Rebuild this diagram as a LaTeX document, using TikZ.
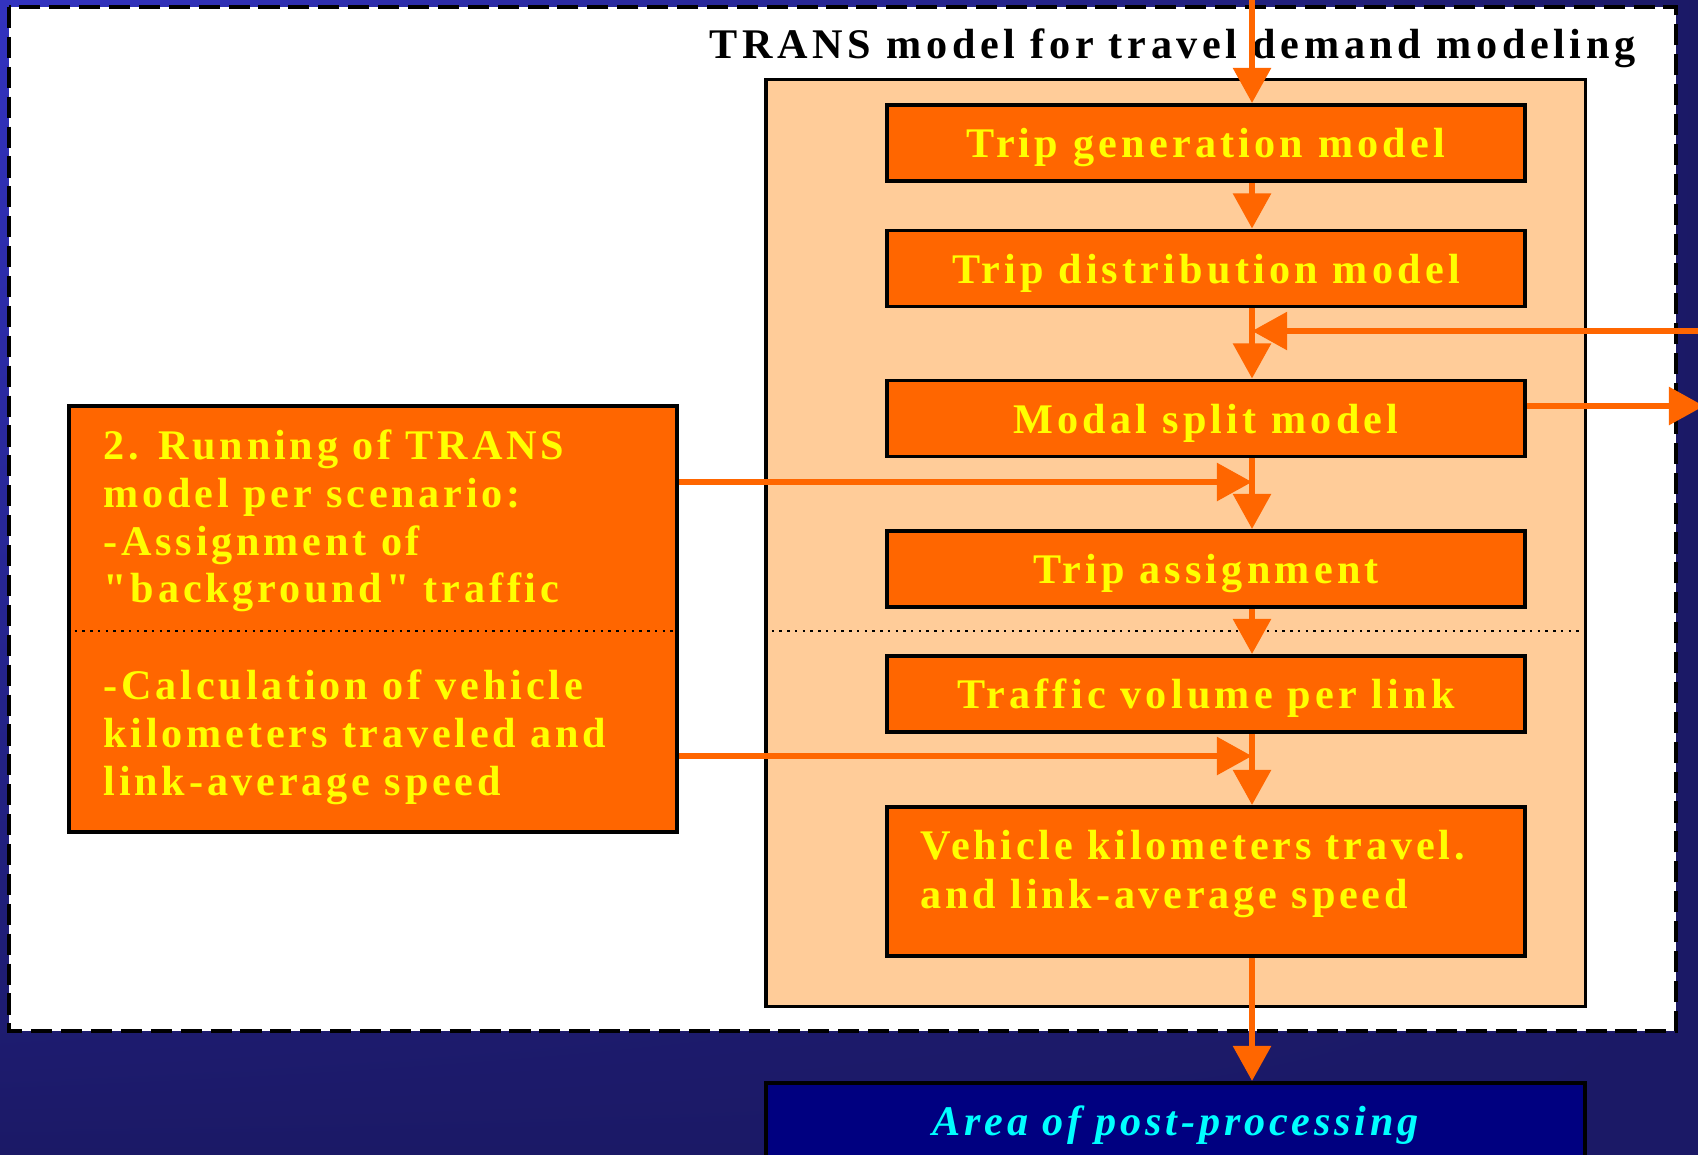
\documentclass[tikz,border=0pt]{standalone}
\usepackage{fontspec}
\setmainfont{Liberation Serif}
\newfontfamily\boxfont[LetterSpace=10]{Liberation Serif}
\newfontfamily\runfont[LetterSpace=9]{Liberation Serif}
\newfontfamily\titlefont[LetterSpace=11]{Liberation Serif}
\usetikzlibrary{arrows.meta, shadings}

\definecolor{bgnavy}{HTML}{1B1966}
\definecolor{bgblue}{HTML}{3333C0}
\definecolor{boxorange}{HTML}{FF6600}
\definecolor{boxyellow}{HTML}{FFFF00}
\definecolor{peach}{HTML}{FFCC99}
\definecolor{areablue}{HTML}{000080}
\definecolor{areacyan}{HTML}{00FFFF}

\def\xscale{0.01}
\def\yscale{-0.01}

\begin{document}
\begin{tikzpicture}[x=\xscale cm, y=\yscale cm,
	stepbox/.style={draw=black, line width=1.1pt, fill=boxorange, text=boxyellow, inner sep=0pt, text depth=0pt,
		font=\boxfont\bfseries\fontsize{12}{14}\selectfont, minimum width=6.38cm, minimum height=0.76cm},
	runtext/.style={anchor=north west, align=left, inner sep=0pt, text=boxyellow,
		font=\runfont\bfseries\fontsize{12}{13.6}\selectfont},
	flow/.style={draw=boxorange, line width=1.8pt, -{Triangle[length=10pt, width=10.5pt]}},
	divider/.style={black, line width=0.7pt, dash pattern=on 0.7pt off 1.5pt}]
			\clip (0,0) rectangle (1698,1154);
			\shade[upper left=bgblue, upper right=bgnavy, lower left=bgnavy, lower right=bgnavy] (0,0) rectangle (1698,1154);
			\draw[fill=white, line width=1.2pt, dash pattern=on 6pt off 2.5pt] (9,7) rectangle (1676,1031);
			
			\node[draw=black, line width=1pt, fill=peach, minimum width=8.19cm, minimum height=9.26cm] (trans) at (1175.5,543) {};
			\node[anchor=base east, font=\titlefont\bfseries\fontsize{12}{14}\selectfont] (title) at (1648,58) {TRANS model for travel demand modeling};
			
			\node[stepbox] (gen) at (1206,143) {Trip generation model};
			\node[stepbox] (dist) at (1206,268.5) {Trip distribution model};
			\node[stepbox] (split) at (1206,418.5) {Modal split model};
			\node[stepbox] (assign) at (1206,569) {Trip assignment};
			\node[stepbox] (vol) at (1206,694) {Traffic volume per link};
			\node[stepbox, minimum height=1.49cm] (veh) at (1206,881.5) {};
			\node[runtext, font=\runfont\bfseries\fontsize{12}{14.2}\selectfont] (vehtext) at (920,829) {Vehicle kilometers travel.\\and link-average speed};
			
			\node[stepbox, minimum width=6.08cm, minimum height=4.26cm] (run) at (373,619) {};
			\node[runtext] (runA) at (103,429) {2. Running of TRANS\\model per scenario:\\-Assignment of\\"background" traffic};
			\node[runtext] (runB) at (103,669) {-Calculation of vehicle\\kilometers traveled and\\link-average speed};
			
			\node[draw=black, line width=1.2pt, fill=areablue, text=areacyan, anchor=north, inner sep=0pt,
				minimum width=8.19cm, minimum height=0.84cm, font=\runfont\bfseries\itshape\fontsize{12}{14}\selectfont] (area) at (1175.5,1081) {Area of post-processing};
			
			\coordinate (cut) at (0,631);
			\draw[divider] (run.west |- cut) -- (run.east |- cut);
			\draw[divider] (trans.west |- cut) -- (trans.east |- cut);
			
			\coordinate (axis) at (1252,0);
			\coordinate (fb) at (1710,331);
			\coordinate (ms) at (1704,406);
			\coordinate (in1) at (0,482);
			\coordinate (in2) at (0,756);
			
			\draw[flow] (axis) -- (gen.north -| axis);
			\foreach \a/\b in {gen/dist, dist/split, split/assign, assign/vol, vol/veh, veh/area}{
				\draw[flow] (\a.south -| axis) -- (\b.north -| axis);
			}
			\draw[flow] (fb) -- (axis |- fb);
			\draw[flow] (split.east |- ms) -- (ms);
			\draw[flow] (run.east |- in1) -- (axis |- in1);
			\draw[flow] (run.east |- in2) -- (axis |- in2);
		\end{tikzpicture}
\end{document}
